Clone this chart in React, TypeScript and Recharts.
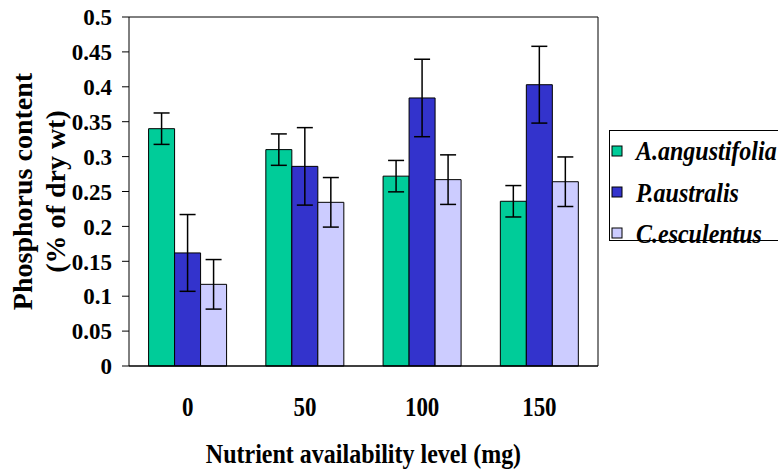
import React from 'react';
import { BarChart, Bar, XAxis, YAxis, ErrorBar } from 'recharts';

const categories = ['0', '50', '100', '150'];
const seriesNames = ['A.angustifolia', 'P.australis', 'C.esculentus'];
const angustifolia = [0.34, 0.31, 0.272, 0.236];
const angustifoliaErr = [0.0225, 0.0225, 0.0225, 0.0225];
const australis = [0.162, 0.286, 0.384, 0.403];
const australisErr = [0.055, 0.0555, 0.0555, 0.055];
const esculentus = [0.117, 0.2345, 0.267, 0.264];
const esculentusErr = [0.0355, 0.0355, 0.0355, 0.0355];
const yTicks = [0, 0.05, 0.1, 0.15, 0.2, 0.25, 0.3, 0.35, 0.4, 0.45, 0.5];
const yTickLabels = ['0', '0.05', '0.1', '0.15', '0.2', '0.25', '0.3', '0.35', '0.4', '0.45', '0.5'];
const boundaryTicks = [0, 1, 2, 3, 4];
const colors = ['#00CC99', '#3333CC', '#CCCCFF'];
const xTitle = 'Nutrient availability level (mg)';
const yTitle1 = 'Phosphorus content';
const yTitle2 = '(% of dry wt)';

const data = categories.map((c, i) => ({
  level: c,
  idx: i + 0.5,
  a: angustifolia[i],
  aErr: angustifoliaErr[i],
  p: australis[i],
  pErr: australisErr[i],
  c: esculentus[i],
  cErr: esculentusErr[i],
}));

const FONT = 'Liberation Serif';
const fontStyleBold = { fontFamily: FONT, fontWeight: 700 } as React.CSSProperties;

const YTick = (props: any) => {
  const { x, y, payload } = props;
  const label = yTickLabels[yTicks.indexOf(payload.value)] ?? String(payload.value);
  return (
    <text x={x} y={y} dy="0.36em" textAnchor="end" fontSize={23} fill="#000" style={fontStyleBold}>
      {label}
    </text>
  );
};

const CategoryTick = (props: any) => {
  const { x, y, payload } = props;
  return (
    <text
      x={0}
      y={0}
      transform={`translate(${x},${y + 50}) scale(1,1.15)`}
      textAnchor="middle"
      fontSize={23}
      fill="#000"
      style={fontStyleBold}
    >
      {payload.value}
    </text>
  );
};

const XTitle = (props: any) => {
  const vb = props.viewBox || { x: 129, y: 366, width: 469, height: 0 };
  const cx = vb.x + vb.width / 2;
  const base = vb.y + 97;
  return (
    <text
      x={0}
      y={0}
      transform={`translate(${cx},${base}) scale(1,1.15)`}
      textAnchor="middle"
      fontSize={24}
      fill="#000"
      style={fontStyleBold}
    >
      {xTitle}
    </text>
  );
};

const YTitle = (props: any) => {
  const vb = props.viewBox || { x: 0, y: 17, width: 129, height: 349 };
  const cy = vb.y + vb.height / 2;
  const x1 = vb.x + 32;
  const x2 = vb.x + 65;
  return (
    <g>
      <text
        x={x1}
        y={cy}
        transform={`rotate(-90, ${x1}, ${cy})`}
        textAnchor="middle"
        fontSize={28}
        fill="#000"
        style={fontStyleBold}
      >
        {yTitle1}
      </text>
      <text
        x={x2}
        y={cy}
        transform={`rotate(-90, ${x2}, ${cy})`}
        textAnchor="middle"
        fontSize={28}
        fill="#000"
        style={fontStyleBold}
      >
        {yTitle2}
      </text>
    </g>
  );
};

const LegendBox = () => (
  <div
    style={{
      position: 'absolute',
      left: 609,
      top: 130,
      width: 220,
      height: 111,
      border: '1px solid #000',
      boxSizing: 'border-box',
      background: '#fff',
    }}
  >
    <svg width={220} height={120} style={{ position: 'absolute', left: -1, top: -1, overflow: 'visible' }}>
      {seriesNames.map((name, i) => (
        <g key={name}>
          <rect x={3} y={16 + i * 41} width={10} height={10} fill={colors[i]} stroke="#000" strokeWidth={1} />
          <text
            x={0}
            y={0}
            transform={`translate(27,${30 + i * 41.5}) scale(1,1.18)`}
            fontSize={24}
            fill="#000"
            style={{ fontFamily: FONT, fontWeight: 700, fontStyle: 'italic' }}
          >
            {name}
          </text>
        </g>
      ))}
    </svg>
  </div>
);

export default function App() {
  return (
    <div style={{ position: 'absolute', left: 0, top: 0, width: 778, height: 473, overflow: 'hidden', background: '#fff' }}>
      <BarChart
        width={778}
        height={473}
        data={data}
        margin={{ top: 16, right: 179, left: 0, bottom: 105 }}
        barCategoryGap="16.7%"
        barGap={0}
      >
        <XAxis
          dataKey="level"
          tick={<CategoryTick />}
          tickLine={false}
          tickSize={0}
          tickMargin={0}
          axisLine={{ stroke: '#000', strokeWidth: 1.5 }}
          height={1}
          interval={0}
          label={{ content: <XTitle /> }}
        />
        <XAxis
          xAxisId="bnd"
          type="number"
          dataKey="idx"
          domain={[0, 4]}
          ticks={boundaryTicks}
          tick={false}
          axisLine={false}
          tickSize={8}
          tickLine={{ stroke: '#000', strokeWidth: 1 }}
          height={1}
          allowDataOverflow
        />
        <XAxis
          xAxisId="top"
          orientation="top"
          dataKey="level"
          tick={false}
          tickLine={false}
          axisLine={{ stroke: '#000', strokeWidth: 1 }}
          height={1}
        />
        <YAxis
          width={129}
          domain={[0, 0.5]}
          ticks={yTicks}
          tick={<YTick />}
          tickSize={7}
          tickMargin={10}
          tickLine={{ stroke: '#000' }}
          axisLine={{ stroke: '#000', strokeWidth: 1 }}
          interval={0}
          label={{ content: <YTitle /> }}
        />
        <YAxis
          yAxisId="right"
          orientation="right"
          width={1}
          domain={[0, 0.5]}
          tick={false}
          tickLine={false}
          axisLine={{ stroke: '#000', strokeWidth: 1 }}
        />
        <Bar dataKey="a" name={seriesNames[0]} fill={colors[0]} stroke="#000" strokeWidth={1} isAnimationActive={false}>
          <ErrorBar dataKey="aErr" width={8} stroke="#000" strokeWidth={1.5} direction="y" isAnimationActive={false} />
        </Bar>
        <Bar dataKey="p" name={seriesNames[1]} fill={colors[1]} stroke="#000" strokeWidth={1} isAnimationActive={false}>
          <ErrorBar dataKey="pErr" width={8} stroke="#000" strokeWidth={1.5} direction="y" isAnimationActive={false} />
        </Bar>
        <Bar dataKey="c" name={seriesNames[2]} fill={colors[2]} stroke="#000" strokeWidth={1} isAnimationActive={false}>
          <ErrorBar dataKey="cErr" width={8} stroke="#000" strokeWidth={1.5} direction="y" isAnimationActive={false} />
        </Bar>
      </BarChart>
      <LegendBox />
    </div>
  );
}
